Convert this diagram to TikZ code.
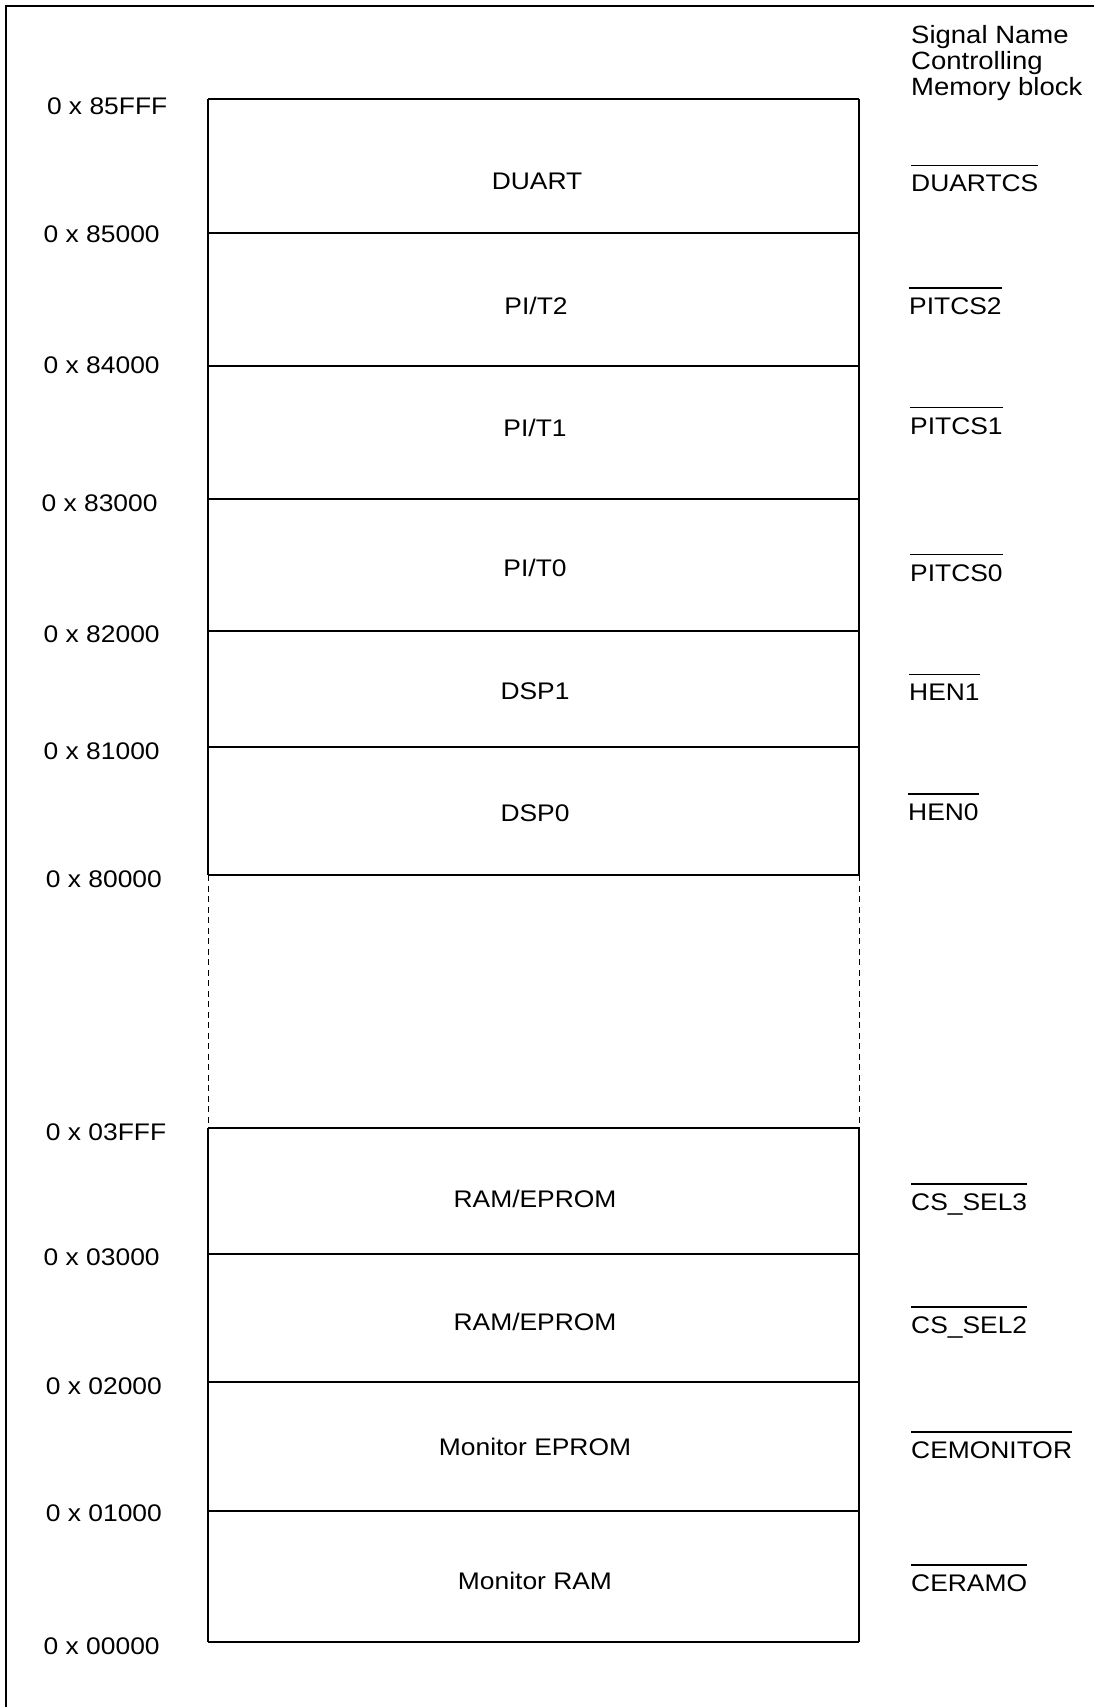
\documentclass[tikz,border=0pt]{standalone}
\usepackage{fontspec}
\setmainfont[FakeStretch=1.1]{Liberation Sans}
\newcommand\ovl[1]{\vbox{\hrule height 1.4pt\kern 9pt\hbox{#1}}}
\begin{document}
\begin{tikzpicture}[x=1pt,y=-1pt,
  txt/.style={inner sep=0pt,font=\fontsize{24}{28}\selectfont},
  addr/.style={txt,anchor=base west},
  blk/.style={txt,anchor=base},
  sig/.style={txt,anchor=base west},
  head/.style={inner sep=0pt,anchor=base west,font=\fontsize{25}{28}\selectfont},
  mline/.style={line width=1.5pt},
  gapline/.style={line width=1pt,dash pattern=on 6pt off 4.5pt}]
\useasboundingbox (0,0) rectangle (1094,1707);
% outer frame
\coordinate (fbl) at (6,1707);
\coordinate (ftl) at (6,6);
\coordinate (ftr) at (1094,6);
\draw[mline] (fbl) -- (ftl) -- (ftr);
% memory map lines
\foreach \n/\y in {0/99,1/233,2/366,3/499,4/631,5/747,6/875,7/1128,8/1254,9/1382,10/1511,11/1642}{
  \coordinate (L\n) at (208,\y);
  \coordinate (R\n) at (859,\y);
  \draw[mline] (L\n) -- (R\n);
}
\draw[mline] (L0) -- (L6) (R0) -- (R6) (L7) -- (L11) (R7) -- (R11);
\draw[gapline] (L6) -- (L7) (R6) -- (R7);
% header
\node[head] (h1) at (911,43.5) {Signal Name};
\node[head] (h2) at (911,69.5) {Controlling};
\node[head] (h3) at (911,95.5) {Memory block};
% addresses
\node[addr] (a0) at (46.8,114.2) {0 x 85FFF};
\node[addr] (a1) at (43.5,242.6) {0 x 85000};
\node[addr] (a2) at (43.5,373.3) {0 x 84000};
\node[addr] (a3) at (41.4,511.6) {0 x 83000};
\node[addr] (a4) at (43.5,642.2) {0 x 82000};
\node[addr] (a5) at (43.5,759.6) {0 x 81000};
\node[addr] (a6) at (45.7,887.1) {0 x 80000};
\node[addr] (a7) at (45.7,1140.6) {0 x 03FFF};
\node[addr] (a8) at (43.5,1265.6) {0 x 03000};
\node[addr] (a9) at (45.7,1394.6) {0 x 02000};
\node[addr] (a10) at (45.7,1521.6) {0 x 01000};
\node[addr] (a11) at (43.5,1654.6) {0 x 00000};
% block names
\node[blk] (b0) at (537,189.3) {DUART};
\node[blk] (b1) at (536,314.6) {PI/T2};
\node[blk] (b2) at (535,436.6) {PI/T1};
\node[blk] (b3) at (535,576.6) {PI/T0};
\node[blk] (b4) at (535,699.6) {DSP1};
\node[blk] (b5) at (535,821.6) {DSP0};
\node[blk] (b6) at (535,1207.1) {RAM/EPROM};
\node[blk] (b7) at (535,1330.2) {RAM/EPROM};
\node[blk] (b8) at (535,1455.4) {Monitor EPROM};
\node[blk] (b9) at (535,1589.2) {Monitor RAM};
% signal names
\node[sig] (s0) at (911,192) {\ovl{DUARTCS}};
\node[sig] (s1) at (909,314.6) {\ovl{PITCS2}};
\node[sig] (s2) at (910,434.2) {\ovl{PITCS1}};
\node[sig] (s3) at (910,581.2) {\ovl{PITCS0}};
\node[sig] (s4) at (909,700.6) {\ovl{HEN1}};
\node[sig] (s5) at (908,820.6) {\ovl{HEN0}};
\node[sig] (s6) at (911,1210.6) {\ovl{CS\_SEL3}};
\node[sig] (s7) at (911,1333.6) {\ovl{CS\_SEL2}};
\node[sig] (s8) at (911,1458.6) {\ovl{CEMONITOR}};
\node[sig] (s9) at (911,1591.6) {\ovl{CERAMO}};
\end{tikzpicture}
\end{document}
